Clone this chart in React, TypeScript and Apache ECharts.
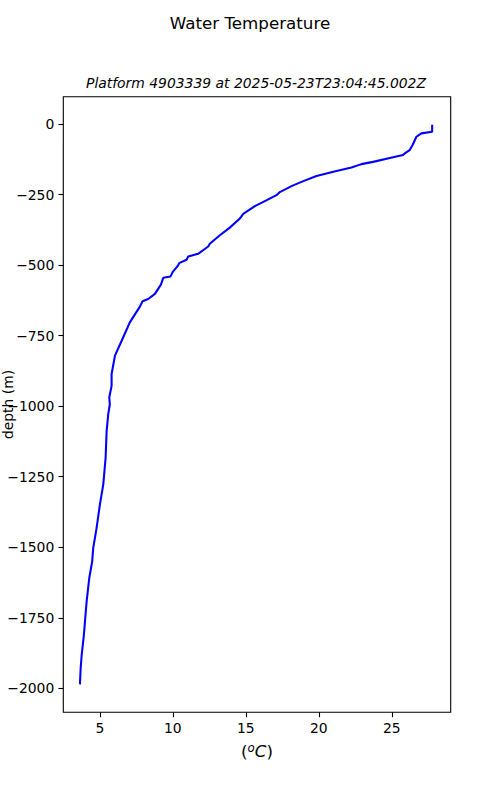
import React, { useEffect, useRef } from "react";
import * as echarts from "echarts";

const depths = [
  -2, -27, -33, -45, -75, -92, -104, -110, -118, -134, -142, -154, -166, -184,
  -205, -220, -241, -252, -273, -291, -318, -335, -367, -376, -394, -424, -434,
  -460, -469, -481, -493, -501, -525, -540, -545, -569, -602, -620, -628, -647,
  -703, -768, -821, -886, -928, -969, -993, -1028, -1088, -1183, -1277, -1348,
  -1432, -1503, -1550, -1609, -1692, -1811, -1882, -1929, -1986,
];
const temps = [
  27.77, 27.77, 27.03, 26.69, 26.42, 26.23, 25.89, 25.77, 25.09, 23.72, 22.92,
  22.24, 21.21, 19.84, 18.81, 18.13, 17.33, 17.1, 16.3, 15.62, 14.82, 14.59,
  13.9, 13.68, 13.22, 12.53, 12.42, 11.73, 11.05, 10.94, 10.43, 10.36, 9.98,
  9.84, 9.34, 9.18, 8.77, 8.31, 7.92, 7.74, 7.05, 6.49, 6.03, 5.8, 5.8, 5.64,
  5.68, 5.57, 5.46, 5.39, 5.23, 5.0, 4.77, 4.54, 4.47, 4.27, 4.09, 3.9, 3.75,
  3.68, 3.63,
];
const xTicks = [5, 10, 15, 20, 25];
const yTicks = [0, -250, -500, -750, -1000, -1250, -1500, -1750, -2000];

const title = "Water Temperature";
const subtitle = "Platform 4903339 at 2025-05-23T23:04:45.002Z";
const yName = "depth (m)";

const FONT = "DejaVu Sans";

export default function App() {
  const ref = useRef<HTMLDivElement>(null);
  useEffect(() => {
    if (!ref.current) return;
    const chart = echarts.init(ref.current, null, { renderer: "svg" });
    const data = depths.map((d, i) => [temps[i], d]);
    chart.setOption({
      animation: false,
      backgroundColor: "#ffffff",
      textStyle: { fontFamily: FONT },
      title: [
        {
          text: title,
          left: "center",
          top: 9,
          textStyle: { fontFamily: FONT, fontSize: 16.7, fontWeight: "normal", color: "#000" },
        },
        {
          text: subtitle,
          left: 251,
          textAlign: "center",
          top: 71,
          textStyle: {
            fontFamily: FONT,
            fontSize: 13.9,
            fontStyle: "italic",
            fontWeight: "normal",
            color: "#000",
          },
        },
      ],
      grid: {
        left: 63.3,
        top: 96.7,
        right: 49.3,
        bottom: 87.7,
        show: true,
        borderColor: "#000",
        borderWidth: 1.1,
        backgroundColor: "transparent",
        containLabel: false,
      },
      xAxis: {
        type: "value",
        min: 2.49,
        max: 29.04,
        splitLine: { show: false },
        axisLine: { show: false, onZero: false },
        axisTick: {
          show: true,
          length: 4.9,
          lineStyle: { color: "#000", width: 1.1 },
          customValues: xTicks,
        },
        axisLabel: {
          customValues: xTicks,
          margin: 9,
          fontFamily: FONT,
          fontSize: 13.9,
          color: "#000",
        },
      },
      yAxis: {
        type: "value",
        min: -2085,
        max: 97,
        splitLine: { show: false },
        axisLine: { show: false, onZero: false },
        axisTick: {
          show: true,
          length: 4.9,
          lineStyle: { color: "#000", width: 1.1 },
          customValues: yTicks,
        },
        axisLabel: {
          customValues: yTicks,
          margin: 9,
          fontFamily: FONT,
          fontSize: 13.9,
          color: "#000",
          formatter: (v: number) => (v < 0 ? "\u2212" + Math.abs(v) : String(v)),
        },
      },
      graphic: [
        {
          type: "text",
          x: 7.5,
          y: 404.5,
          rotation: Math.PI / 2,
          style: {
            text: yName,
            fontFamily: FONT,
            fontSize: 13.9,
            fill: "#000",
            align: "center",
            verticalAlign: "middle",
          },
        },
        {
          type: "text",
          x: 257,
          y: 751,
          style: {
            text: "{p|(}{s|o}{i|C}{p|)}",
            align: "center",
            verticalAlign: "middle",
            rich: {
              p: { fontFamily: FONT, fontSize: 16.7, color: "#000" },
              i: { fontFamily: FONT, fontSize: 16.7, fontStyle: "italic", color: "#000" },
              s: {
                fontFamily: FONT,
                fontSize: 11.7,
                fontStyle: "italic",
                color: "#000",
                verticalAlign: "top",
                padding: [0, 0, 6, 0],
              },
            },
          },
        },
      ],
      series: [
        {
          type: "line",
          data,
          showSymbol: false,
          symbol: "none",
          lineStyle: { color: "#0000ff", width: 2.08 },
          clip: true,
        },
      ],
    });
    return () => chart.dispose();
  }, []);
  return (
    <div
      ref={ref}
      style={{ position: "fixed", left: 0, top: 0, width: 500, height: 800 }}
    />
  );
}
